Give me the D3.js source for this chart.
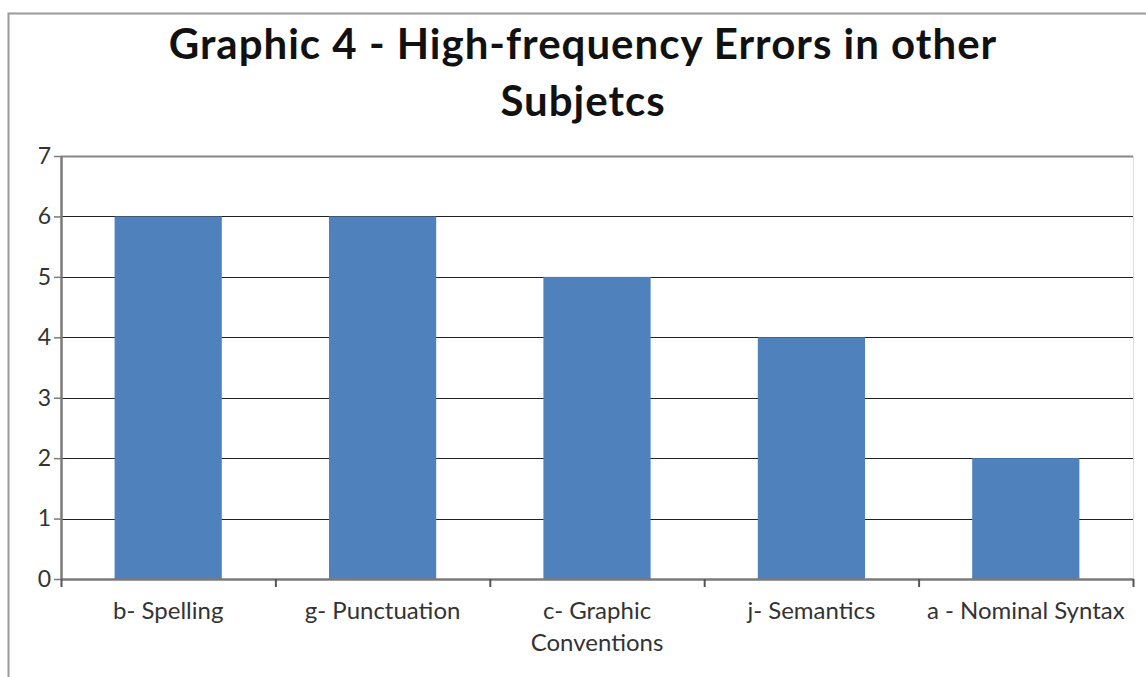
<!DOCTYPE html>
<html>
<head>
<meta charset="utf-8">
<script src="https://cdn.jsdelivr.net/npm/d3@7"></script>
<style>
  body { margin: 0; background: #fff; }
  text { font-family: Lato, "Open Sans", sans-serif; }
</style>
</head>
<body>
<div id="chart"></div>
<script>
// data
var categories = ["b- Spelling", "g- Punctuation", "c- Graphic Conventions", "j- Semantics", "a - Nominal Syntax"];
var values = [6, 6, 5, 4, 2];
var yTicks = [0, 1, 2, 3, 4, 5, 6, 7];
var titleLines = ["Graphic 4 - High-frequency Errors in other", "Subjetcs"];

var W = 1146, H = 677;
var margin = {top: 156, right: 13, bottom: 98, left: 61},
    width = W - margin.left - margin.right,
    height = H - margin.top - margin.bottom;

var svg = d3.select("#chart")
  .append("svg")
  .attr("width", W)
  .attr("height", H);

// chart frame
svg.append("path")
  .attr("d", "M8.5," + H + "V13.5H" + W)
  .attr("fill", "none")
  .attr("stroke", "#9a9a9a")
  .attr("stroke-width", 2);

// title
svg.append("g").selectAll("text")
  .data(titleLines)
  .enter().append("text")
  .attr("x", 583)
  .attr("y", function (d, i) { return 59 + i * 57; })
  .attr("text-anchor", "middle")
  .style("font-size", "42px")
  .style("letter-spacing", "1px")
  .style("font-weight", "bold")
  .style("fill", "#111")
  .text(function (d) { return d; });

var g = svg.append("g")
  .attr("transform", "translate(" + margin.left + "," + margin.top + ")");

var x = d3.scaleBand()
  .domain(categories)
  .range([0, width])
  .paddingInner(0.5)
  .paddingOuter(0.25);

var y = d3.scaleLinear()
  .domain([0, 7])
  .range([height, 0]);

// right edge of plot area
g.append("line")
  .attr("x1", width + 0.5).attr("x2", width + 0.5)
  .attr("y1", 0).attr("y2", height)
  .attr("stroke", "#ddd");

// gridlines
g.append("g").selectAll("line")
  .data(yTicks.filter(function (d) { return d > 0; }))
  .enter().append("line")
  .attr("x1", 0).attr("x2", width)
  .attr("y1", function (d) { return Math.round(y(d)) + 0.5; })
  .attr("y2", function (d) { return Math.round(y(d)) + 0.5; })
  .attr("stroke", function (d) { return d == 7 ? "#888" : "#222"; })
  .attr("stroke-width", function (d) { return d == 7 ? 2 : 1; });

// bars
g.append("g").selectAll("rect")
  .data(values)
  .enter().append("rect")
  .attr("x", function (d, i) { return x(categories[i]); })
  .attr("y", function (d) { return y(d); })
  .attr("width", x.bandwidth())
  .attr("height", function (d) { return height - y(d); })
  .attr("fill", "#4F81BD");

// y axis
var yAxis = g.append("g")
  .call(d3.axisLeft(y).tickValues(yTicks).tickFormat(d3.format("d"))
    .tickSize(7).tickSizeOuter(0).tickPadding(3));
yAxis.select(".domain").attr("stroke", "#7a7a7a").attr("stroke-width", 2.5);
yAxis.selectAll(".tick line").attr("stroke", "#7a7a7a").attr("stroke-width", 1.5);
yAxis.selectAll(".tick text")
  .style("font-size", "23px")
  .style("fill", "#333")
  .style("font-family", "Lato, 'Open Sans', sans-serif");

// x axis with category boundary ticks
var xb = d3.scaleLinear().domain([0, categories.length]).range([0, width]);
var xAxis = g.append("g")
  .attr("transform", "translate(0," + height + ")")
  .call(d3.axisBottom(xb).tickValues(d3.range(categories.length + 1)).tickSize(8).tickSizeOuter(0).tickFormat(""));
xAxis.select(".domain").attr("stroke", "#7a7a7a").attr("stroke-width", 2.5);
xAxis.selectAll(".tick line").attr("stroke", "#555").attr("stroke-width", 2);

// category labels, wrapped like the original
var labelLines = {"c- Graphic Conventions": ["c- Graphic", "Conventions"]};
var labels = g.append("g").selectAll("text")
  .data(categories)
  .enter().append("text")
  .attr("x", function (d) { return x(d) + x.bandwidth() / 2; })
  .attr("y", height + 40)
  .attr("text-anchor", "middle")
  .style("font-size", "24px")
  .style("fill", "#333");
labels.each(function (d) {
  var lines = labelLines[d] || [d];
  var t = d3.select(this);
  lines.forEach(function (l, i) {
    t.append("tspan")
      .attr("x", t.attr("x"))
      .attr("dy", i == 0 ? 0 : 32)
      .text(l);
  });
});
</script>
</body>
</html>
